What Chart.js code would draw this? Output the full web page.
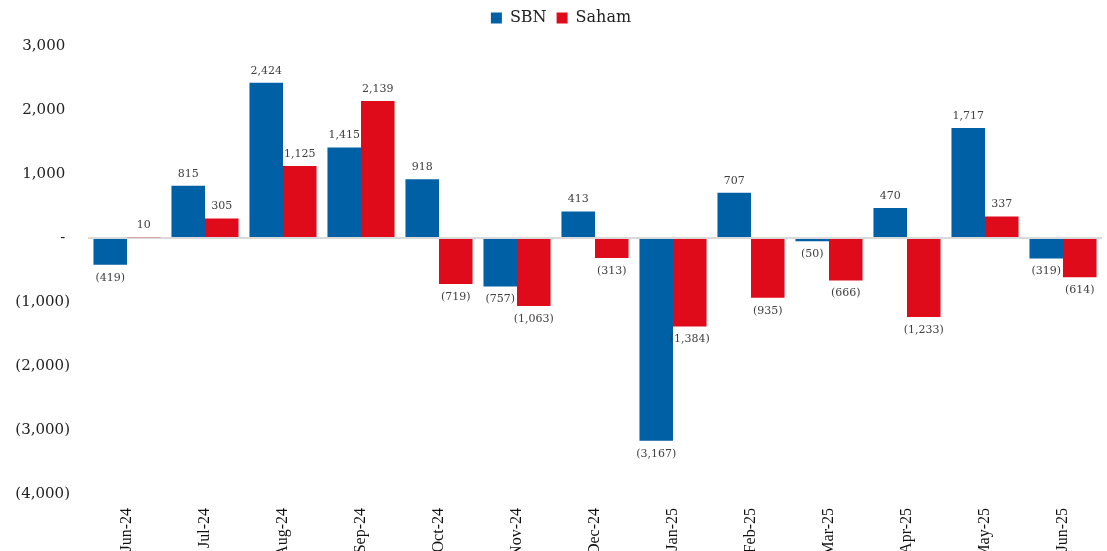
<!DOCTYPE html>
<html>
<head>
<meta charset="utf-8">
<script src="https://cdn.jsdelivr.net/npm/chart.js@4.4.1/dist/chart.umd.min.js"></script>
<style>
html,body{margin:0;padding:0;background:#fff;overflow:hidden;}
#wrap{width:1107px;height:551px;}
</style>
</head>
<body>
<div id="wrap"><canvas id="c" width="1107" height="551"></canvas></div>
<script>
const categories = ['Jun-24','Jul-24','Aug-24','Sep-24','Oct-24','Nov-24','Dec-24','Jan-25','Feb-25','Mar-25','Apr-25','May-25','Jun-25'];
const sbn = [-419, 815, 2424, 1415, 918, -757, 413, -3167, 707, -50, 470, 1717, -319];
const saham = [10, 305, 1125, 2139, -719, -1063, -313, -1384, -935, -666, -1233, 337, -614];
const yMin = -4000, yMax = 3000, yStep = 1000;

function fmtNum(v){ return Math.abs(v).toLocaleString('en-US'); }
function acct(v){ return v === 0 ? '- ' : (v < 0 ? '(' + fmtNum(v) + ')' : fmtNum(v) + ' '); }
function labelFmt(v){ return v < 0 ? '(' + fmtNum(v) + ')' : fmtNum(v); }

const SERIF = "'DejaVu Serif', 'Liberation Serif', serif";

const dataLabels = {
  id: 'dataLabels',
  afterDatasetsDraw(chart){
    const ctx = chart.ctx;
    ctx.save();
    ctx.font = '11px ' + SERIF;
    ctx.fillStyle = '#404040';
    ctx.textAlign = 'center';
    ctx.textBaseline = 'middle';
    chart.data.datasets.forEach((ds, i) => {
      const meta = chart.getDatasetMeta(i);
      meta.data.forEach((el, j) => {
        const v = ds.data[j];
        const y = v >= 0 ? el.y - 12 : el.y + 13;
        ctx.fillText(labelFmt(v), el.x, y);
      });
    });
    ctx.restore();
  }
};

// shift the legend box slightly right so its centre matches the original
const legendShift = {
  id: 'legendShift',
  afterLayout(chart){
    if (chart.legend) { chart.legend.left += 20; }
  }
};

new Chart(document.getElementById('c'), {
  type: 'bar',
  data: {
    labels: categories,
    datasets: [
      { label: 'SBN', data: sbn, backgroundColor: '#0060A6', borderWidth: 0, xAxisID: 'x' },
      { label: 'Saham', data: saham, backgroundColor: '#DF0A1A', borderWidth: 0, xAxisID: 'x' }
    ]
  },
  options: {
    responsive: false,
    animation: false,
    devicePixelRatio: 1,
    layout: { padding: { left: 0, right: 5, top: 0, bottom: 0 } },
    datasets: { bar: { categoryPercentage: 0.86, barPercentage: 1.0 } },
    plugins: {
      legend: {
        position: 'top',
        align: 'center',
        labels: {
          boxWidth: 11, boxHeight: 11, padding: 10,
          color: '#222',
          font: { family: SERIF, size: 16 }
        }
      },
      tooltip: { enabled: false }
    },
    scales: {
      x: {
        grid: { display: false },
        border: { display: false },
        ticks: {
          autoSkip: false, minRotation: 90, maxRotation: 90, padding: 6,
          color: '#111',
          font: { family: "'Liberation Serif', serif", size: 16 }
        },
        afterFit(scale){ scale.height = 57; }
      },
      xTop: {
        type: 'category',
        position: 'top',
        grid: { display: false },
        border: { display: false },
        ticks: { display: false },
        afterFit(scale){ scale.height = 10; }
      },
      y: {
        min: yMin, max: yMax,
        border: { display: false },
        grid: {
          drawTicks: false,
          color: ctx => (ctx.tick && ctx.tick.value === 0) ? '#D9D9D9' : 'rgba(0,0,0,0)',
          lineWidth: ctx => (ctx.tick && ctx.tick.value === 0) ? 2 : 0
        },
        ticks: {
          stepSize: yStep, padding: 18,
          color: '#222',
          font: { family: SERIF, size: 15 },
          callback: v => acct(v)
        },
        afterFit(scale){ scale.width = 88; }
      }
    }
  },
  plugins: [dataLabels, legendShift]
});
</script>
</body>
</html>
